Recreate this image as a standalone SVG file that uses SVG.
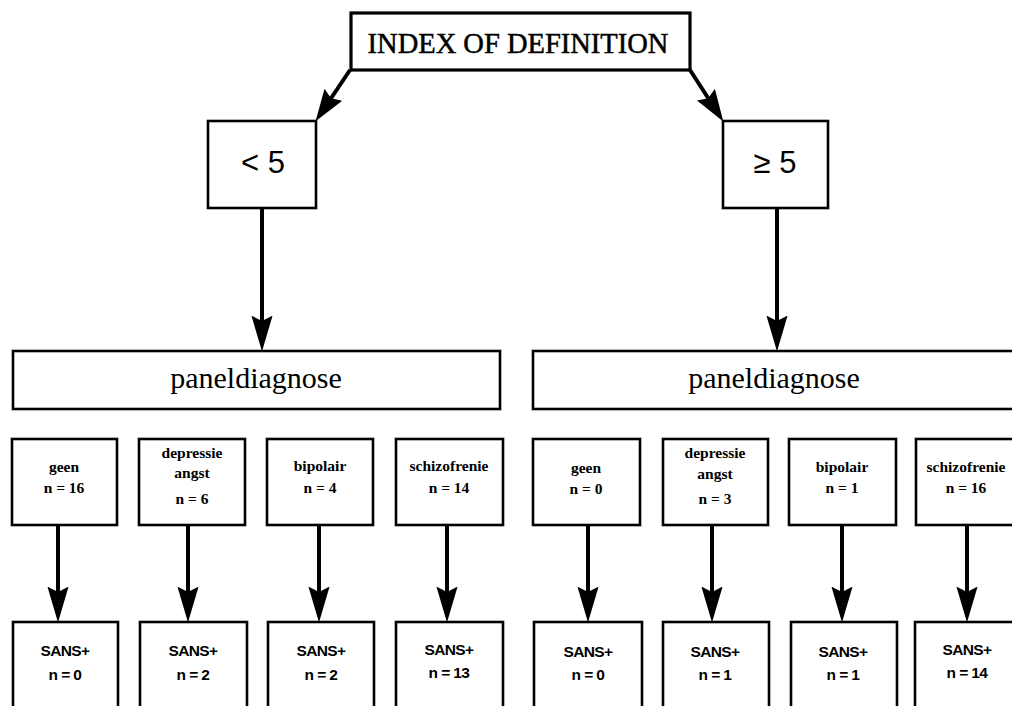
<svg xmlns="http://www.w3.org/2000/svg" width="1012" height="706" viewBox="0 0 1012 706">
<style>
.box{fill:#fff;stroke:#000;stroke-width:2.6}
.big{fill:#fff;stroke:#000;stroke-width:3.2}
.con{stroke:#000;stroke-width:4;fill:none}
.ser{font-family:"Liberation Serif","Times New Roman",serif;fill:#000;text-anchor:middle}
.lab{font-family:"Liberation Serif","Times New Roman",serif;font-weight:bold;font-size:15.5px;fill:#000;text-anchor:middle}
.san{font-family:"Liberation Sans",Arial,sans-serif;font-weight:bold;font-size:15.5px;fill:#000;text-anchor:middle;letter-spacing:-0.6px}
.thr{font-family:"Liberation Sans",Arial,sans-serif;font-size:31px;fill:#000;text-anchor:middle}
</style>
<defs>
<marker id="ah" markerUnits="userSpaceOnUse" markerWidth="36" markerHeight="22" viewBox="0 0 34 20" refX="24" refY="10" orient="auto">
<path d="M0,0 L34,10 L0,20 L5,10 z" fill="#000"/>
</marker>
<marker id="ah2" markerUnits="userSpaceOnUse" markerWidth="32" markerHeight="22" viewBox="0 0 30 20" refX="20" refY="10" orient="auto">
<path d="M0,0 L30,10 L0,20 L4,10 z" fill="#000"/>
</marker>
</defs>
<rect width="1012" height="706" fill="#fff"/>
<g id="connectors">
<line class="con" x1="350" y1="70" x2="321.5" y2="112.5" marker-end="url(#ah2)"/>
<line class="con" x1="690" y1="70" x2="717.5" y2="112.5" marker-end="url(#ah2)"/>
<line class="con" x1="262" y1="208" x2="262" y2="341" marker-end="url(#ah)"/>
<line class="con" x1="777" y1="208" x2="777" y2="341" marker-end="url(#ah)"/>
<line class="con" x1="58" y1="525" x2="58" y2="612" marker-end="url(#ah)"/>
<line class="con" x1="188" y1="525" x2="188" y2="612" marker-end="url(#ah)"/>
<line class="con" x1="319" y1="525" x2="319" y2="612" marker-end="url(#ah)"/>
<line class="con" x1="447" y1="525" x2="447" y2="612" marker-end="url(#ah)"/>
<line class="con" x1="588" y1="525" x2="588" y2="612" marker-end="url(#ah)"/>
<line class="con" x1="712" y1="525" x2="712" y2="612" marker-end="url(#ah)"/>
<line class="con" x1="842" y1="525" x2="842" y2="612" marker-end="url(#ah)"/>
<line class="con" x1="967" y1="525" x2="967" y2="612" marker-end="url(#ah)"/>
</g>
<g id="index">
<rect class="big" x="351" y="13" width="339" height="57"/>
<text class="ser" x="518" y="53" font-size="28.5" stroke="#000" stroke-width="0.5">INDEX OF DEFINITION</text>
</g>
<g id="lt5">
<rect class="box" x="208" y="121" width="108" height="87"/>
<text class="thr" x="263" y="173">&lt; 5</text>
</g>
<g id="ge5">
<rect class="box" x="723" y="121" width="105" height="87"/>
<text class="thr" x="775" y="173">≥ 5</text>
</g>
<g id="panel-left">
<rect class="box" x="13" y="351" width="487" height="58"/>
<text class="ser" x="256" y="388" font-size="30">paneldiagnose</text>
</g>
<g id="panel-right">
<rect class="box" x="533" y="351" width="490" height="58"/>
<text class="ser" x="774" y="388" font-size="30">paneldiagnose</text>
</g>
<g id="l-geen">
<rect class="box" x="12" y="439" width="105" height="86"/>
<text class="lab" x="64" y="472">geen</text>
<text class="lab" x="64" y="493">n = 16</text>
</g>
<g id="l-depressie">
<rect class="box" x="139" y="439" width="106" height="86"/>
<text class="lab" x="192" y="458">depressie</text>
<text class="lab" x="192" y="478">angst</text>
<text class="lab" x="192" y="504">n = 6</text>
</g>
<g id="l-bipolair">
<rect class="box" x="267" y="439" width="106" height="86"/>
<text class="lab" x="320" y="471">bipolair</text>
<text class="lab" x="320" y="493">n = 4</text>
</g>
<g id="l-schizofrenie">
<rect class="box" x="396" y="439" width="107" height="86"/>
<text class="lab" x="449" y="471">schizofrenie</text>
<text class="lab" x="449" y="493">n = 14</text>
</g>
<g id="r-geen">
<rect class="box" x="533" y="439" width="107" height="86"/>
<text class="lab" x="586" y="473">geen</text>
<text class="lab" x="586" y="494">n = 0</text>
</g>
<g id="r-depressie">
<rect class="box" x="663" y="439" width="105" height="86"/>
<text class="lab" x="715" y="458">depressie</text>
<text class="lab" x="715" y="479">angst</text>
<text class="lab" x="715" y="504">n = 3</text>
</g>
<g id="r-bipolair">
<rect class="box" x="789" y="439" width="107" height="86"/>
<text class="lab" x="842" y="472">bipolair</text>
<text class="lab" x="842" y="493">n = 1</text>
</g>
<g id="r-schizofrenie">
<rect class="box" x="916" y="439" width="106" height="86"/>
<text class="lab" x="966" y="472">schizofrenie</text>
<text class="lab" x="966" y="493">n = 16</text>
</g>
<g id="l-sans-geen">
<rect class="box" x="13" y="622" width="105" height="100"/>
<text class="san" x="65" y="656">SANS+</text>
<text class="san" x="65" y="680">n = 0</text>
</g>
<g id="l-sans-depressie">
<rect class="box" x="140" y="622" width="107" height="100"/>
<text class="san" x="193" y="656">SANS+</text>
<text class="san" x="193" y="680">n = 2</text>
</g>
<g id="l-sans-bipolair">
<rect class="box" x="268" y="622" width="106" height="100"/>
<text class="san" x="321" y="656">SANS+</text>
<text class="san" x="321" y="680">n = 2</text>
</g>
<g id="l-sans-schizofrenie">
<rect class="box" x="396" y="622" width="107" height="100"/>
<text class="san" x="449" y="655">SANS+</text>
<text class="san" x="449" y="678">n = 13</text>
</g>
<g id="r-sans-geen">
<rect class="box" x="534" y="622" width="108" height="100"/>
<text class="san" x="588" y="657">SANS+</text>
<text class="san" x="588" y="680">n = 0</text>
</g>
<g id="r-sans-depressie">
<rect class="box" x="663" y="622" width="106" height="100"/>
<text class="san" x="715" y="657">SANS+</text>
<text class="san" x="715" y="680">n = 1</text>
</g>
<g id="r-sans-bipolair">
<rect class="box" x="791" y="622" width="106" height="100"/>
<text class="san" x="843" y="657">SANS+</text>
<text class="san" x="843" y="680">n = 1</text>
</g>
<g id="r-sans-schizofrenie">
<rect class="box" x="915" y="622" width="107" height="100"/>
<text class="san" x="967" y="655">SANS+</text>
<text class="san" x="967" y="678">n = 14</text>
</g>
</svg>
